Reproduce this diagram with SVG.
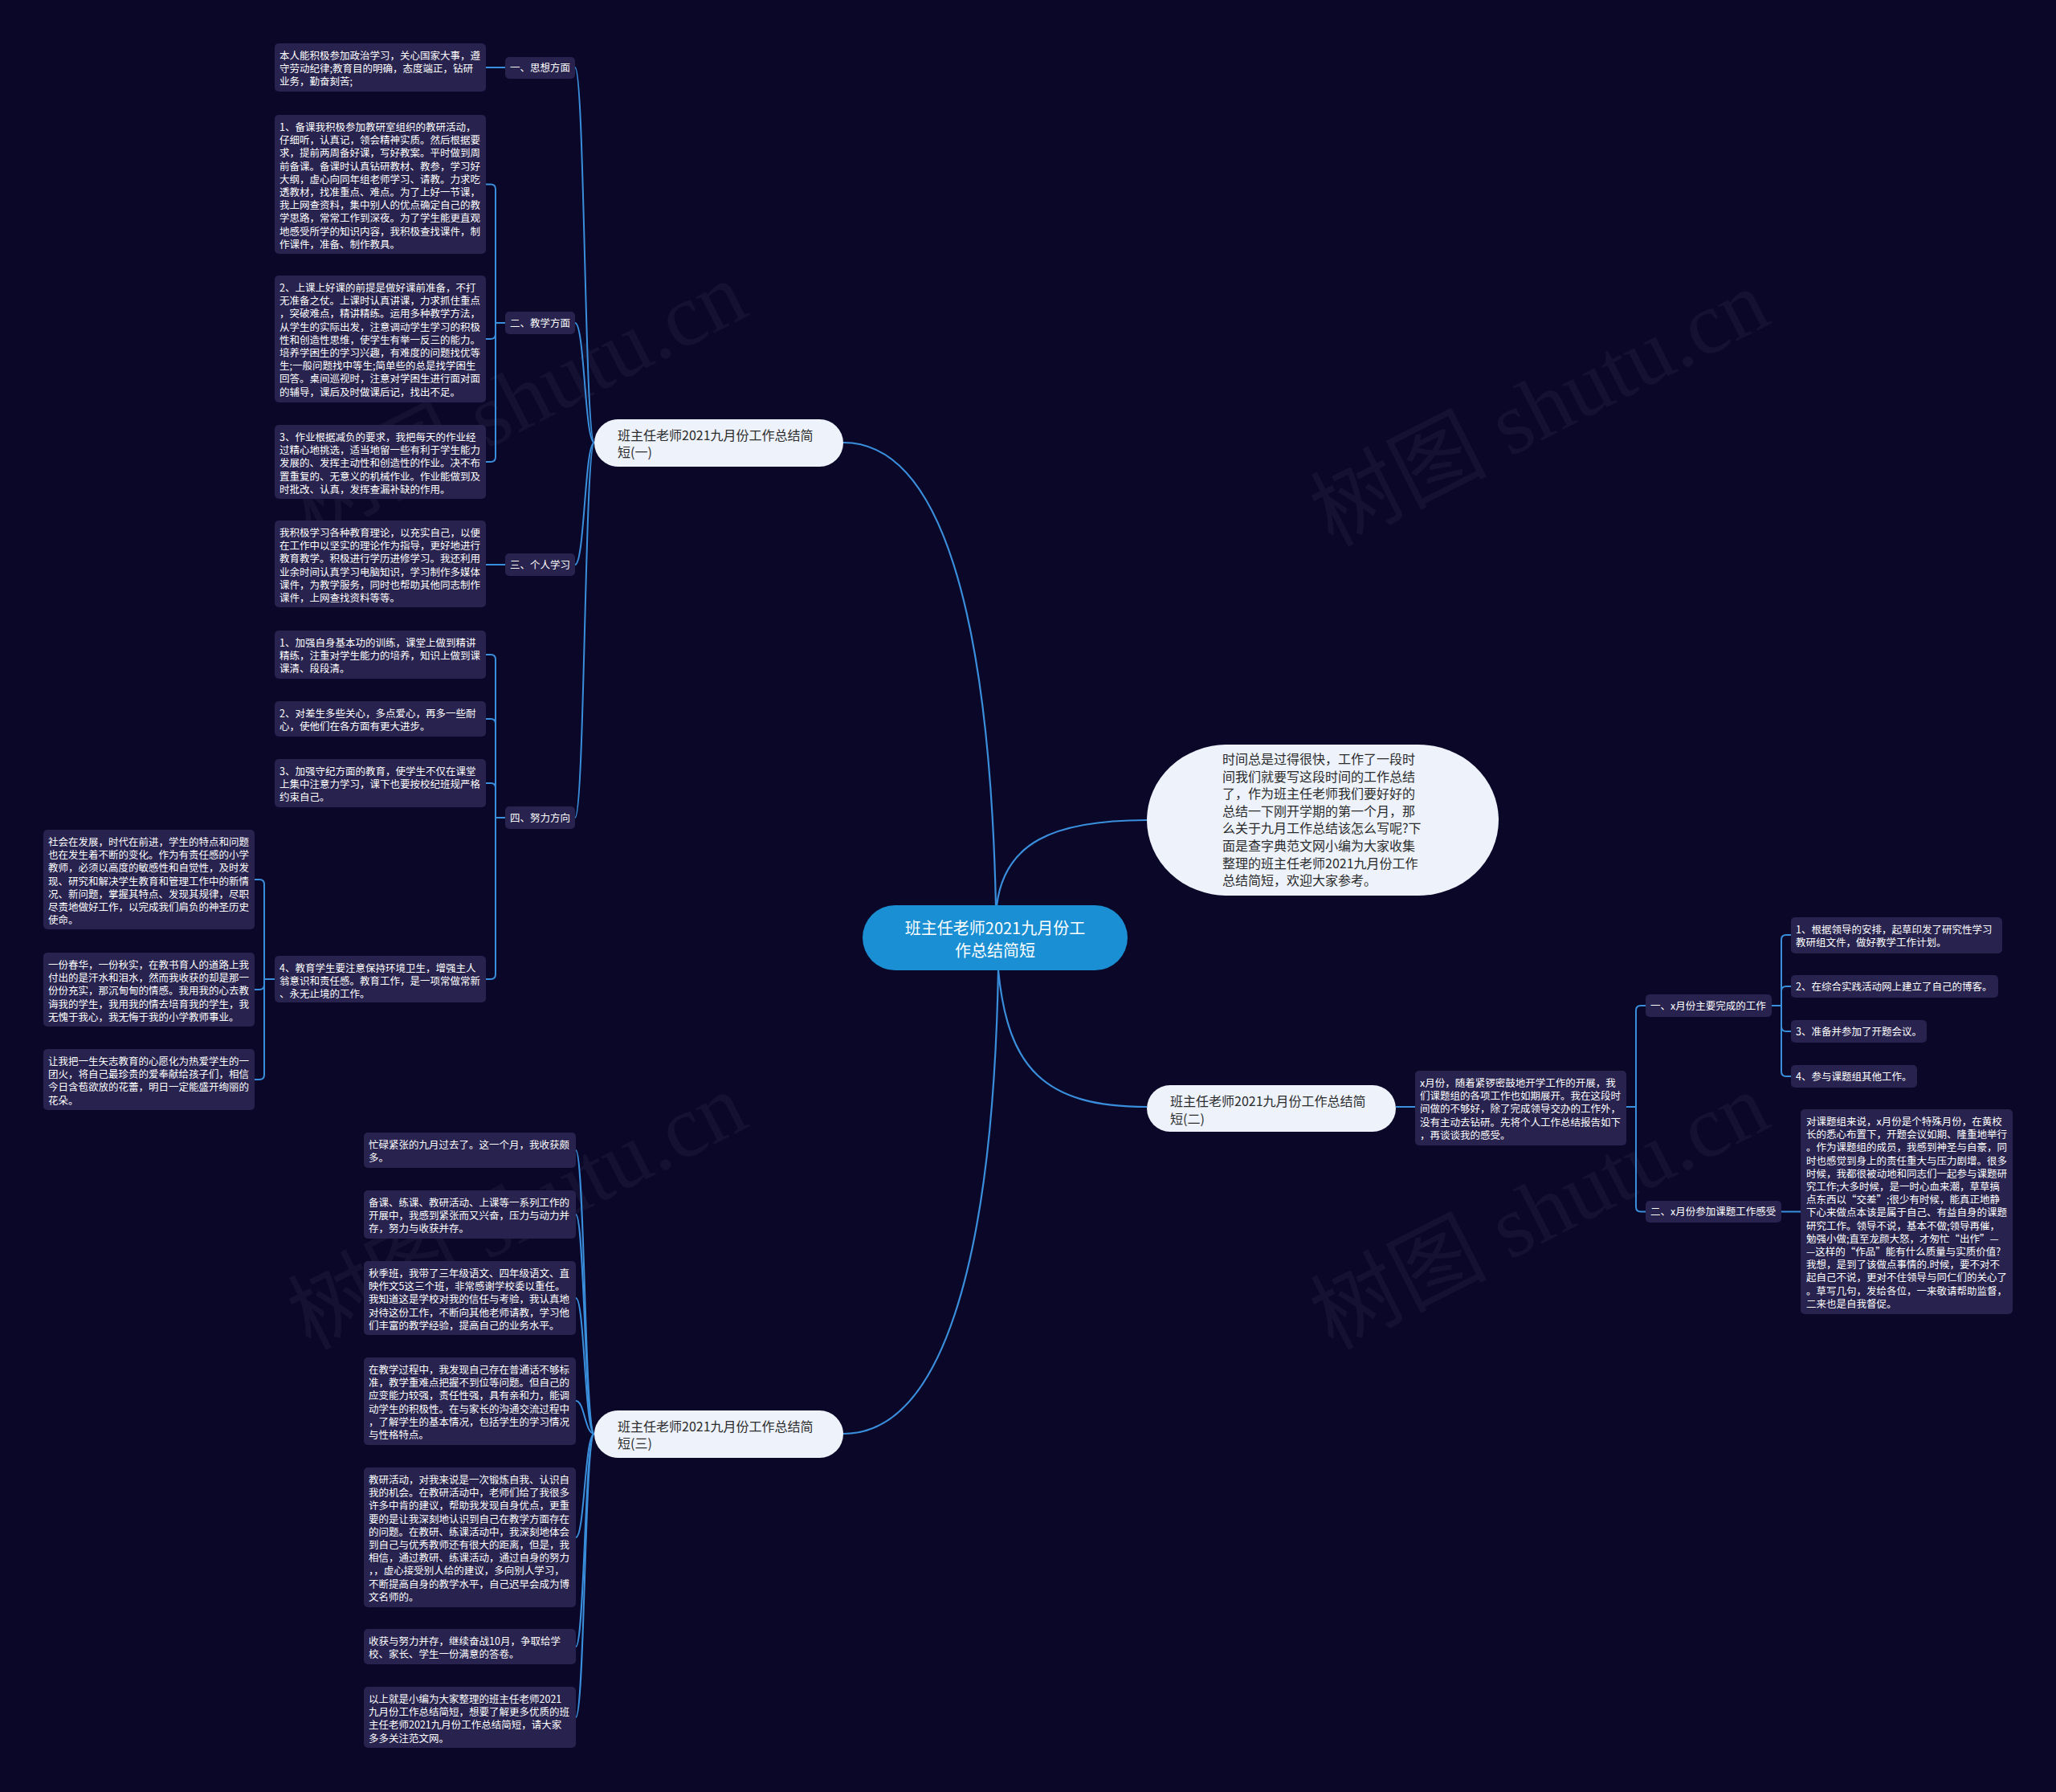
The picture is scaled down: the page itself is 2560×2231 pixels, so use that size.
<svg xmlns="http://www.w3.org/2000/svg" width="2560" height="2231" viewBox="0 0 2560 2231">
<defs>
<style>
.bx{fill:#27224e}
.t{font-family:"Noto Sans CJK SC","Noto Sans",sans-serif;font-size:12.5px;fill:#ffffff}
.nd{fill:#edf2fb}
.nt{font-family:"Noto Sans CJK SC","Noto Sans",sans-serif;font-size:16px;fill:#2b2b2b}
.ct{font-family:"Noto Sans CJK SC","Noto Sans",sans-serif;font-size:20px;fill:#ffffff}
.ln{fill:none;stroke:#3a8fdc;stroke-width:2}
.mln{fill:none;stroke:#3a8fdc;stroke-width:2.2}
.wm{font-family:"Liberation Serif","Noto Sans CJK SC",serif;font-size:110px;fill:#ffffff;fill-opacity:0.045}
</style>
</defs>
<rect x="0" y="0" width="2560" height="2231" fill="#0b0729"/>
<g id="watermarks">
<text class="wm" x="645" y="535" text-anchor="middle" transform="rotate(-27 645 500)">树图 shutu.cn</text>
<text class="wm" x="1918" y="545" text-anchor="middle" transform="rotate(-27 1918 510)">树图 shutu.cn</text>
<text class="wm" x="645" y="1545" text-anchor="middle" transform="rotate(-27 645 1510)">树图 shutu.cn</text>
<text class="wm" x="1918" y="1545" text-anchor="middle" transform="rotate(-27 1918 1510)">树图 shutu.cn</text>
</g>
<g id="connectors">
<path class="mln" d="M1240 1128 C1232 760 1170 551 1050 551"/>
<path class="mln" d="M1243 1208 C1236 1580 1170 1785 1050 1785"/>
<path class="mln" d="M1241 1128 C1250 1050 1310 1021 1428 1021"/>
<path class="mln" d="M1243 1208 C1255 1330 1300 1378 1428 1378"/>
<path class="ln" d="M740 551 C728 551 728 84 716 84"/>
<path class="ln" d="M740 551 C728 551 728 402 716 402"/>
<path class="ln" d="M740 551 C728 551 728 703 716 703"/>
<path class="ln" d="M740 551 C728 551 728 1018 716 1018"/>
<path class="ln" d="M629 84 L605 84"/>
<path class="ln" d="M629 402 L617 402 L617 235.5 Q617 229.5 611 229.5 L605 229.5"/>
<path class="ln" d="M629 402 L617 402 L617 416 Q617 422 611 422 L605 422"/>
<path class="ln" d="M629 402 L617 402 L617 569 Q617 575 611 575 L605 575"/>
<path class="ln" d="M629 703 L605 703"/>
<path class="ln" d="M629 1018 L617 1018 L617 821 Q617 815 611 815 L605 815"/>
<path class="ln" d="M629 1018 L617 1018 L617 901 Q617 895 611 895 L605 895"/>
<path class="ln" d="M629 1018 L617 1018 L617 981 Q617 975 611 975 L605 975"/>
<path class="ln" d="M629 1018 L617 1018 L617 1213 Q617 1219 611 1219 L605 1219"/>
<path class="ln" d="M342 1219 L329 1219 L329 1101 Q329 1095 323 1095 L317 1095"/>
<path class="ln" d="M342 1219 L329 1219 L329 1226 Q329 1232 323 1232 L317 1232"/>
<path class="ln" d="M342 1219 L329 1219 L329 1338 Q329 1344 323 1344 L317 1344"/>
<path class="ln" d="M740 1785 C728 1785 728 1432 717 1432"/>
<path class="ln" d="M740 1785 C728 1785 728 1512 717 1512"/>
<path class="ln" d="M740 1785 C728 1785 728 1616 717 1616"/>
<path class="ln" d="M740 1785 C728 1785 728 1744 717 1744"/>
<path class="ln" d="M740 1785 C728 1785 728 1914 717 1914"/>
<path class="ln" d="M740 1785 C728 1785 728 2050 717 2050"/>
<path class="ln" d="M740 1785 C728 1785 728 2138 717 2138"/>
<path class="ln" d="M1738 1378 L1762 1378"/>
<path class="ln" d="M2025 1378 L2037 1378 L2037 1258 Q2037 1252 2043 1252 L2049 1252"/>
<path class="ln" d="M2025 1378 L2037 1378 L2037 1502.5 Q2037 1508.5 2043 1508.5 L2049 1508.5"/>
<path class="ln" d="M2206 1252 L2218 1252 L2218 1170 Q2218 1164 2224 1164 L2230 1164"/>
<path class="ln" d="M2206 1252 L2218 1252 L2218 1234 Q2218 1228 2224 1228 L2230 1228"/>
<path class="ln" d="M2206 1252 L2218 1252 L2218 1278 Q2218 1284 2224 1284 L2230 1284"/>
<path class="ln" d="M2206 1252 L2218 1252 L2218 1334 Q2218 1340 2224 1340 L2230 1340"/>
<path class="ln" d="M2218 1508.5 L2242 1508.5"/>
</g>
<g id="center">
<rect x="1074" y="1127" width="330" height="81" rx="40.5" fill="#1a8fd3"/>
<text class="ct" x="1239" y="1162.5" text-anchor="middle">班主任老师2021九月份工<tspan x="1239" dy="28">作总结简短</tspan></text>
</g>
<g id="intro">
<rect x="1428" y="927" width="438" height="188" rx="100" ry="94" class="nd"/>
<text class="nt" x="1522" y="951"><tspan x="1522" dy="0">时间总是过得很快，工作了一段时</tspan><tspan x="1522" dy="21.6">间我们就要写这段时间的工作总结</tspan><tspan x="1522" dy="21.6">了，作为班主任老师我们要好好的</tspan><tspan x="1522" dy="21.6">总结一下刚开学期的第一个月，那</tspan><tspan x="1522" dy="21.6">么关于九月工作总结该怎么写呢?下</tspan><tspan x="1522" dy="21.6">面是查字典范文网小编为大家收集</tspan><tspan x="1522" dy="21.6">整理的班主任老师2021九月份工作</tspan><tspan x="1522" dy="21.6">总结简短，欢迎大家参考。</tspan></text>
</g>
<g id="n1">
<rect x="740" y="522" width="310" height="59" rx="29.5" class="nd"/>
<text class="nt" x="769" y="547.8">班主任老师2021九月份工作总结简<tspan x="769" dy="21">短(一)</tspan></text>
</g>
<g id="n1-a">
<rect x="629" y="71" width="87" height="27" rx="5" class="bx"/>
<text class="t" x="635" y="89">一、思想方面</text>
</g>
<g id="n1-a-1">
<rect x="342" y="54" width="263" height="60" rx="5" class="bx"/>
<text class="t" x="348" y="74"><tspan x="348" dy="0">本人能积极参加政治学习，关心国家大事，遵</tspan><tspan x="348" dy="16.2">守劳动纪律;教育目的明确，态度端正，钻研</tspan><tspan x="348" dy="16.2">业务，勤奋刻苦;</tspan></text>
</g>
<g id="n1-b">
<rect x="629" y="388" width="87" height="28" rx="5" class="bx"/>
<text class="t" x="635" y="406.5">二、教学方面</text>
</g>
<g id="n1-b-1">
<rect x="342" y="143" width="263" height="173" rx="5" class="bx"/>
<text class="t" x="348" y="163"><tspan x="348" dy="0">1、备课我积极参加教研室组织的教研活动，</tspan><tspan x="348" dy="16.2">仔细听，认真记，领会精神实质。然后根据要</tspan><tspan x="348" dy="16.2">求，提前两周备好课，写好教案。平时做到周</tspan><tspan x="348" dy="16.2">前备课。备课时认真钻研教材、教参，学习好</tspan><tspan x="348" dy="16.2">大纲，虚心向同年组老师学习、请教。力求吃</tspan><tspan x="348" dy="16.2">透教材，找准重点、难点。为了上好一节课，</tspan><tspan x="348" dy="16.2">我上网查资料，集中别人的优点确定自己的教</tspan><tspan x="348" dy="16.2">学思路，常常工作到深夜。为了学生能更直观</tspan><tspan x="348" dy="16.2">地感受所学的知识内容，我积极查找课件，制</tspan><tspan x="348" dy="16.2">作课件，准备、制作教具。</tspan></text>
</g>
<g id="n1-b-2">
<rect x="342" y="343" width="263" height="158" rx="5" class="bx"/>
<text class="t" x="348" y="363"><tspan x="348" dy="0">2、上课上好课的前提是做好课前准备，不打</tspan><tspan x="348" dy="16.2">无准备之仗。上课时认真讲课，力求抓住重点</tspan><tspan x="348" dy="16.2">，突破难点，精讲精练。运用多种教学方法，</tspan><tspan x="348" dy="16.2">从学生的实际出发，注意调动学生学习的积极</tspan><tspan x="348" dy="16.2">性和创造性思维，使学生有举一反三的能力。</tspan><tspan x="348" dy="16.2">培养学困生的学习兴趣，有难度的问题找优等</tspan><tspan x="348" dy="16.2">生;一般问题找中等生;简单些的总是找学困生</tspan><tspan x="348" dy="16.2">回答。桌间巡视时，注意对学困生进行面对面</tspan><tspan x="348" dy="16.2">的辅导，课后及时做课后记，找出不足。</tspan></text>
</g>
<g id="n1-b-3">
<rect x="342" y="529" width="263" height="92" rx="5" class="bx"/>
<text class="t" x="348" y="549"><tspan x="348" dy="0">3、作业根据减负的要求，我把每天的作业经</tspan><tspan x="348" dy="16.2">过精心地挑选，适当地留一些有利于学生能力</tspan><tspan x="348" dy="16.2">发展的、发挥主动性和创造性的作业。决不布</tspan><tspan x="348" dy="16.2">置重复的、无意义的机械作业。作业能做到及</tspan><tspan x="348" dy="16.2">时批改、认真，发挥查漏补缺的作用。</tspan></text>
</g>
<g id="n1-c">
<rect x="629" y="689" width="87" height="28" rx="5" class="bx"/>
<text class="t" x="635" y="707.5">三、个人学习</text>
</g>
<g id="n1-c-1">
<rect x="342" y="648" width="263" height="108" rx="5" class="bx"/>
<text class="t" x="348" y="668"><tspan x="348" dy="0">我积极学习各种教育理论，以充实自己，以便</tspan><tspan x="348" dy="16.2">在工作中以坚实的理论作为指导，更好地进行</tspan><tspan x="348" dy="16.2">教育教学。积极进行学历进修学习。我还利用</tspan><tspan x="348" dy="16.2">业余时间认真学习电脑知识，学习制作多媒体</tspan><tspan x="348" dy="16.2">课件，为教学服务，同时也帮助其他同志制作</tspan><tspan x="348" dy="16.2">课件，上网查找资料等等。</tspan></text>
</g>
<g id="n1-d">
<rect x="629" y="1004" width="87" height="28" rx="5" class="bx"/>
<text class="t" x="635" y="1022.5">四、努力方向</text>
</g>
<g id="n1-d-1">
<rect x="342" y="785" width="263" height="60" rx="5" class="bx"/>
<text class="t" x="348" y="805"><tspan x="348" dy="0">1、加强自身基本功的训练，课堂上做到精讲</tspan><tspan x="348" dy="16.2">精练，注重对学生能力的培养，知识上做到课</tspan><tspan x="348" dy="16.2">课清、段段清。</tspan></text>
</g>
<g id="n1-d-2">
<rect x="342" y="873" width="263" height="44" rx="5" class="bx"/>
<text class="t" x="348" y="893"><tspan x="348" dy="0">2、对差生多些关心，多点爱心，再多一些耐</tspan><tspan x="348" dy="16.2">心，使他们在各方面有更大进步。</tspan></text>
</g>
<g id="n1-d-3">
<rect x="342" y="945" width="263" height="60" rx="5" class="bx"/>
<text class="t" x="348" y="965"><tspan x="348" dy="0">3、加强守纪方面的教育，使学生不仅在课堂</tspan><tspan x="348" dy="16.2">上集中注意力学习，课下也要按校纪班规严格</tspan><tspan x="348" dy="16.2">约束自己。</tspan></text>
</g>
<g id="n1-d-4">
<rect x="342" y="1190" width="263" height="58" rx="5" class="bx"/>
<text class="t" x="348" y="1210"><tspan x="348" dy="0">4、教育学生要注意保持环境卫生，增强主人</tspan><tspan x="348" dy="16.2">翁意识和责任感。教育工作，是一项常做常新</tspan><tspan x="348" dy="16.2">、永无止境的工作。</tspan></text>
</g>
<g id="n1-d-4-1">
<rect x="54" y="1033" width="263" height="124" rx="5" class="bx"/>
<text class="t" x="60" y="1053"><tspan x="60" dy="0">社会在发展，时代在前进，学生的特点和问题</tspan><tspan x="60" dy="16.2">也在发生着不断的变化。作为有责任感的小学</tspan><tspan x="60" dy="16.2">教师，必须以高度的敏感性和自觉性，及时发</tspan><tspan x="60" dy="16.2">现、研究和解决学生教育和管理工作中的新情</tspan><tspan x="60" dy="16.2">况、新问题，掌握其特点、发现其规律，尽职</tspan><tspan x="60" dy="16.2">尽责地做好工作，以完成我们肩负的神圣历史</tspan><tspan x="60" dy="16.2">使命。</tspan></text>
</g>
<g id="n1-d-4-2">
<rect x="54" y="1186" width="263" height="92" rx="5" class="bx"/>
<text class="t" x="60" y="1206"><tspan x="60" dy="0">一份春华，一份秋实，在教书育人的道路上我</tspan><tspan x="60" dy="16.2">付出的是汗水和泪水，然而我收获的却是那一</tspan><tspan x="60" dy="16.2">份份充实，那沉甸甸的情感。我用我的心去教</tspan><tspan x="60" dy="16.2">诲我的学生，我用我的情去培育我的学生，我</tspan><tspan x="60" dy="16.2">无愧于我心，我无悔于我的小学教师事业。</tspan></text>
</g>
<g id="n1-d-4-3">
<rect x="54" y="1306" width="263" height="76" rx="5" class="bx"/>
<text class="t" x="60" y="1326"><tspan x="60" dy="0">让我把一生矢志教育的心愿化为热爱学生的一</tspan><tspan x="60" dy="16.2">团火，将自己最珍贵的爱奉献给孩子们，相信</tspan><tspan x="60" dy="16.2">今日含苞欲放的花蕾，明日一定能盛开绚丽的</tspan><tspan x="60" dy="16.2">花朵。</tspan></text>
</g>
<g id="n3">
<rect x="740" y="1756" width="310" height="59" rx="29.5" class="nd"/>
<text class="nt" x="769" y="1781.8">班主任老师2021九月份工作总结简<tspan x="769" dy="21">短(三)</tspan></text>
</g>
<g id="n3-1">
<rect x="453" y="1410" width="264" height="44" rx="5" class="bx"/>
<text class="t" x="459" y="1430"><tspan x="459" dy="0">忙碌紧张的九月过去了。这一个月，我收获颇</tspan><tspan x="459" dy="16.2">多。</tspan></text>
</g>
<g id="n3-2">
<rect x="453" y="1482" width="264" height="60" rx="5" class="bx"/>
<text class="t" x="459" y="1502"><tspan x="459" dy="0">备课、练课、教研活动、上课等一系列工作的</tspan><tspan x="459" dy="16.2">开展中，我感到紧张而又兴奋，压力与动力并</tspan><tspan x="459" dy="16.2">存，努力与收获并存。</tspan></text>
</g>
<g id="n3-3">
<rect x="453" y="1570" width="264" height="92" rx="5" class="bx"/>
<text class="t" x="459" y="1590"><tspan x="459" dy="0">秋季班，我带了三年级语文、四年级语文、直</tspan><tspan x="459" dy="16.2">映作文5这三个班，非常感谢学校委以重任。</tspan><tspan x="459" dy="16.2">我知道这是学校对我的信任与考验，我认真地</tspan><tspan x="459" dy="16.2">对待这份工作，不断向其他老师请教，学习他</tspan><tspan x="459" dy="16.2">们丰富的教学经验，提高自己的业务水平。</tspan></text>
</g>
<g id="n3-4">
<rect x="453" y="1690" width="264" height="109" rx="5" class="bx"/>
<text class="t" x="459" y="1710"><tspan x="459" dy="0">在教学过程中，我发现自己存在普通话不够标</tspan><tspan x="459" dy="16.2">准，教学重难点把握不到位等问题。但自己的</tspan><tspan x="459" dy="16.2">应变能力较强，责任性强，具有亲和力，能调</tspan><tspan x="459" dy="16.2">动学生的积极性。在与家长的沟通交流过程中</tspan><tspan x="459" dy="16.2">，了解学生的基本情况，包括学生的学习情况</tspan><tspan x="459" dy="16.2">与性格特点。</tspan></text>
</g>
<g id="n3-5">
<rect x="453" y="1827" width="264" height="174" rx="5" class="bx"/>
<text class="t" x="459" y="1847"><tspan x="459" dy="0">教研活动，对我来说是一次锻炼自我、认识自</tspan><tspan x="459" dy="16.2">我的机会。在教研活动中，老师们给了我很多</tspan><tspan x="459" dy="16.2">许多中肯的建议，帮助我发现自身优点，更重</tspan><tspan x="459" dy="16.2">要的是让我深刻地认识到自己在教学方面存在</tspan><tspan x="459" dy="16.2">的问题。在教研、练课活动中，我深刻地体会</tspan><tspan x="459" dy="16.2">到自己与优秀教师还有很大的距离，但是，我</tspan><tspan x="459" dy="16.2">相信，通过教研、练课活动，通过自身的努力</tspan><tspan x="459" dy="16.2">，，虚心接受别人给的建议，多向别人学习，</tspan><tspan x="459" dy="16.2">不断提高自身的教学水平，自己迟早会成为博</tspan><tspan x="459" dy="16.2">文名师的。</tspan></text>
</g>
<g id="n3-6">
<rect x="453" y="2028" width="264" height="44" rx="5" class="bx"/>
<text class="t" x="459" y="2048"><tspan x="459" dy="0">收获与努力并存，继续奋战10月，争取给学</tspan><tspan x="459" dy="16.2">校、家长、学生一份满意的答卷。</tspan></text>
</g>
<g id="n3-7">
<rect x="453" y="2100" width="264" height="76" rx="5" class="bx"/>
<text class="t" x="459" y="2120"><tspan x="459" dy="0">以上就是小编为大家整理的班主任老师2021</tspan><tspan x="459" dy="16.2">九月份工作总结简短，想要了解更多优质的班</tspan><tspan x="459" dy="16.2">主任老师2021九月份工作总结简短，请大家</tspan><tspan x="459" dy="16.2">多多关注范文网。</tspan></text>
</g>
<g id="n2">
<rect x="1428" y="1351" width="310" height="58" rx="29" class="nd"/>
<text class="nt" x="1457" y="1377">班主任老师2021九月份工作总结简<tspan x="1457" dy="21.8">短(二)</tspan></text>
</g>
<g id="n2-1">
<rect x="1762" y="1333" width="263" height="93" rx="5" class="bx"/>
<text class="t" x="1768" y="1353"><tspan x="1768" dy="0">x月份，随着紧锣密鼓地开学工作的开展，我</tspan><tspan x="1768" dy="16.2">们课题组的各项工作也如期展开。我在这段时</tspan><tspan x="1768" dy="16.2">间做的不够好，除了完成领导交办的工作外，</tspan><tspan x="1768" dy="16.2">没有主动去钻研。先将个人工作总结报告如下</tspan><tspan x="1768" dy="16.2">，再谈谈我的感受。</tspan></text>
</g>
<g id="n2-a">
<rect x="2049" y="1238" width="157" height="28" rx="5" class="bx"/>
<text class="t" x="2055" y="1256.5">一、x月份主要完成的工作</text>
</g>
<g id="n2-a-1">
<rect x="2230" y="1142" width="263" height="45" rx="5" class="bx"/>
<text class="t" x="2236" y="1162"><tspan x="2236" dy="0">1、根据领导的安排，起草印发了研究性学习</tspan><tspan x="2236" dy="16.2">教研组文件，做好教学工作计划。</tspan></text>
</g>
<g id="n2-a-2">
<rect x="2230" y="1214" width="258" height="28" rx="5" class="bx"/>
<text class="t" x="2236" y="1232.5">2、在综合实践活动网上建立了自己的博客。</text>
</g>
<g id="n2-a-3">
<rect x="2230" y="1270" width="169" height="28" rx="5" class="bx"/>
<text class="t" x="2236" y="1288.5">3、准备并参加了开题会议。</text>
</g>
<g id="n2-a-4">
<rect x="2230" y="1326" width="157" height="28" rx="5" class="bx"/>
<text class="t" x="2236" y="1344.5">4、参与课题组其他工作。</text>
</g>
<g id="n2-b">
<rect x="2049" y="1495" width="169" height="27" rx="5" class="bx"/>
<text class="t" x="2055" y="1513">二、x月份参加课题工作感受</text>
</g>
<g id="n2-b-1">
<rect x="2242" y="1381" width="264" height="255" rx="5" class="bx"/>
<text class="t" x="2249" y="1401"><tspan x="2249" dy="0">对课题组来说，x月份是个特殊月份，在黄校</tspan><tspan x="2249" dy="16.2">长的悉心布置下，开题会议如期、隆重地举行</tspan><tspan x="2249" dy="16.2">。作为课题组的成员，我感到神圣与自豪，同</tspan><tspan x="2249" dy="16.2">时也感觉到身上的责任重大与压力剧增。很多</tspan><tspan x="2249" dy="16.2">时候，我都很被动地和同志们一起参与课题研</tspan><tspan x="2249" dy="16.2">究工作;大多时候，是一时心血来潮，草草搞</tspan><tspan x="2249" dy="16.2">点东西以“交差”;很少有时候，能真正地静</tspan><tspan x="2249" dy="16.2">下心来做点本该是属于自己、有益自身的课题</tspan><tspan x="2249" dy="16.2">研究工作。领导不说，基本不做;领导再催，</tspan><tspan x="2249" dy="16.2">勉强小做;直至龙颜大怒，才匆忙“出作”—</tspan><tspan x="2249" dy="16.2">—这样的“作品”能有什么质量与实质价值?</tspan><tspan x="2249" dy="16.2">我想，是到了该做点事情的.时候，要不对不</tspan><tspan x="2249" dy="16.2">起自己不说，更对不住领导与同仁们的关心了</tspan><tspan x="2249" dy="16.2">。草写几句，发给各位，一来敬请帮助监督，</tspan><tspan x="2249" dy="16.2">二来也是自我督促。</tspan></text>
</g>
</svg>
